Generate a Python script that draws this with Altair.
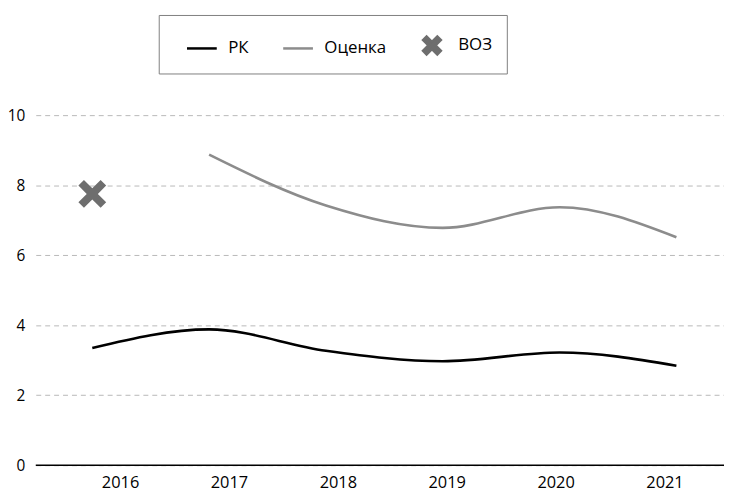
import altair as alt
import pandas as pd

years = ["2016", "2017", "2018", "2019", "2020", "2021"]
rk = [3.35, 3.88, 3.27, 2.97, 3.22, 2.84]
otsenka_years = ["2017", "2018", "2019", "2020", "2021"]
otsenka = [8.87, 7.42, 6.78, 7.37, 6.51]
voz_years = ["2016"]
voz = [7.75]
series_names = ["РК", "Оценка", "ВОЗ"]
series_colors = ["#000000", "#8c8c8c", "#6e6e6e"]
y_ticks = [0, 2, 4, 6, 8, 10]
baseline = [0]

FONT = "Open Sans"
X_PATH = ("M-0.6,-0.36L-0.36,-0.6L0,-0.24L0.36,-0.6L0.6,-0.36L0.24,0"
          "L0.6,0.36L0.36,0.6L0,0.24L-0.36,0.6L-0.6,0.36L-0.24,0Z")

lines_df = pd.DataFrame(
    {"year": years + otsenka_years,
     "value": rk + otsenka,
     "series": ["РК"] * len(rk) + ["Оценка"] * len(otsenka)}
)
voz_df = pd.DataFrame({"year": voz_years, "value": voz, "series": ["ВОЗ"] * len(voz)})
years_df = pd.DataFrame({"year": years})
base_df = pd.DataFrame({"v": baseline})

last_name = series_names[-1]
legend = alt.Legend(
    title=" ", titleOrient="left", titlePadding=13, titleFontSize=17,
    orient="none", legendX=124, legendY=-101, direction="horizontal",
    strokeColor="#808080", padding=14, columnPadding=29, labelOffset=10,
    symbolSize=900, symbolStrokeWidth=2.5, symbolFillColor="#6e6e6e",
    labelFont=FONT, labelFontSize=17, labelColor="#000000",
    labelExpr=f"datum.label == '{last_name}' ? datum.label + '          ' : datum.label",
)

y_scale = alt.Scale(domain=[0, 10], nice=False)
color_scale = alt.Scale(domain=series_names, range=series_colors)
shape_scale = alt.Scale(domain=series_names, range=["stroke", "stroke", X_PATH])
x_data = alt.X("year:O", axis=None,
               scale=alt.Scale(type="point", range=[57, 646], padding=0))

lines = alt.Chart(lines_df).mark_line(interpolate="monotone", strokeWidth=2.6).encode(
    x=x_data, y=alt.Y("value:Q", scale=y_scale, axis=None),
    color=alt.Color("series:N", scale=color_scale, legend=legend),
)

points = alt.Chart(voz_df).mark_point(filled=True, opacity=1, size=2180).encode(
    x=x_data, y=alt.Y("value:Q", scale=y_scale, axis=None),
    color=alt.Color("series:N", scale=color_scale, legend=legend),
    shape=alt.Shape("series:N", scale=shape_scale, legend=legend),
)

data_layer = alt.layer(lines, points)

axis_layer = alt.Chart(years_df).mark_point(opacity=0).encode(
    x=alt.X(
        "year:O",
        scale=alt.Scale(type="point", range=[85, 634], padding=0),
        axis=alt.Axis(
            title=None, orient="bottom", domain=False, ticks=False, labelAngle=0,
            labelPadding=9, labelFont=FONT, labelFontSize=16.5, labelColor="#000000",
        ),
    )
)

base_rule = alt.Chart(base_df).mark_rule(color="#000000", strokeWidth=1.5).encode(
    y=alt.Y(
        "v:Q", scale=y_scale,
        axis=alt.Axis(
            title=None, values=y_ticks, domain=False, ticks=False, labelPadding=11,
            labelFont=FONT, labelFontSize=15.5, labelColor="#000000",
            grid=True, gridColor="#b8b8b8", gridDash=[5, 4], gridWidth=1,
        ),
    )
)

chart = alt.layer(base_rule, axis_layer, data_layer).resolve_scale(
    x="independent"
).resolve_axis(y="independent").properties(
    width=694, height=353,
    autosize=alt.AutoSizeParams(type="none"),
    padding={"left": 28, "top": 106, "right": 0, "bottom": 26},
).configure_view(stroke=None)

chart.save("out.html", embed_options={"renderer": "svg", "actions": False})
